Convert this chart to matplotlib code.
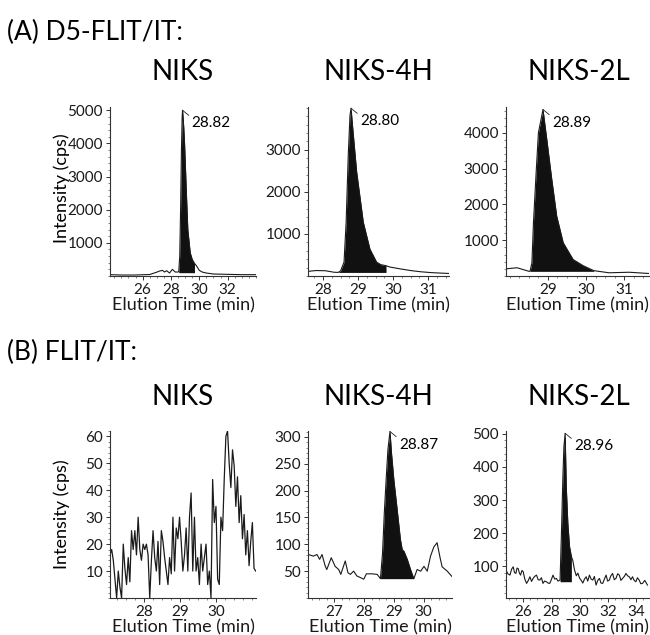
import matplotlib
matplotlib.use("Agg")
import matplotlib.pyplot as plt
from matplotlib.ticker import AutoMinorLocator

plt.rcParams['font.family'] = ['Lato', 'DejaVu Sans']

# ---- (A) D5-FLIT/IT ----
a1_time = [23.7, 24.5, 25.5, 26.5, 26.96, 27.2, 27.4, 27.55, 27.7, 27.9, 28.1, 28.3, 28.49,
           28.55, 28.62, 28.68, 28.74, 28.79, 28.82, 28.9, 28.96, 29.08, 29.19, 29.36, 29.5,
           29.66, 29.78, 30.0, 30.2, 30.49, 31.0, 32.0, 33.0, 34.0]
a1_int = [40, 30, 30, 45, 110, 150, 170, 120, 160, 90, 200, 120, 120,
          130, 600, 2000, 3800, 4800, 5000, 4500, 4000, 2600, 1400, 700, 500,
          380, 320, 170, 120, 90, 60, 50, 40, 40]

a2_time = [27.57, 27.8, 28.07, 28.31, 28.43, 28.5, 28.6, 28.66, 28.72, 28.77, 28.80, 28.85,
           28.96, 29.15, 29.34, 29.53, 29.65, 29.8, 29.9, 30.2, 30.5, 30.8, 31.1, 31.34, 31.6]
a2_int = [110, 130, 125, 90, 85, 120, 330, 1280, 2860, 3820, 3990, 3500,
          2480, 1280, 640, 330, 270, 245, 215, 170, 130, 100, 80, 70, 60]

a3_time = [27.9, 28.19, 28.49, 28.53, 28.58, 28.62, 28.69, 28.75, 28.87, 28.97, 29.1, 29.23,
           29.4, 29.66, 29.92, 30.18, 30.2, 30.6, 31.13, 31.65]
a3_int = [200, 230, 135, 130, 370, 1490, 2880, 4000, 4650, 3810, 2700, 1670,
          930, 460, 290, 160, 150, 90, 105, 70]

# ---- (B) FLIT/IT ----
b1_time = [27.070, 27.116, 27.161, 27.207, 27.253, 27.299, 27.344, 27.390, 27.436, 27.481,
           27.527, 27.573, 27.618, 27.664, 27.710, 27.756, 27.801, 27.847, 27.893, 27.938,
           27.984, 28.030, 28.075, 28.121, 28.167, 28.213, 28.258, 28.304, 28.350, 28.395,
           28.441, 28.487, 28.532, 28.578, 28.624, 28.670, 28.715, 28.761, 28.807, 28.852,
           28.898, 28.944, 28.989, 29.035, 29.081, 29.127, 29.172, 29.218, 29.264, 29.309,
           29.355, 29.401, 29.446, 29.492, 29.538, 29.584, 29.629, 29.675, 29.721, 29.766,
           29.812, 29.858, 29.903, 29.949, 29.995, 30.041, 30.086, 30.132, 30.178, 30.223,
           30.269, 30.315, 30.360, 30.406, 30.452, 30.498, 30.543, 30.589, 30.635, 30.680,
           30.726, 30.772, 30.817, 30.863, 30.909, 30.955, 31.000, 31.046, 31.092]
b1_int = [16, 18, 14, 7, 0, 10, 4, 0, 20, 11,
          5, 15, 6, 25, 18, 25, 16, 30, 18, 14,
          20, 18, 20, 16, 0, 14, 25, 15, 10, 21,
          5, 25, 21, 15, 10, 5, 15, 9, 30, 10,
          26, 22, 30, 21, 10, 16, 26, 10, 30, 39,
          10, 30, 10, 15, 5, 20, 10, 15, 20, 5,
          10, 0, 44, 28, 34, 7, 5, 30, 25, 44,
          60, 62, 50, 41, 55, 49, 34, 45, 28, 38,
          22, 31, 16, 25, 12, 21, 28, 11, 10]

b2_time = [26.13, 26.30, 26.42, 26.51, 26.59, 26.70, 26.75, 26.90, 27.03, 27.15, 27.22, 27.37,
           27.46, 27.54, 27.65, 27.76, 27.88, 27.99, 28.08, 28.27, 28.44, 28.55, 28.62, 28.68,
           28.74, 28.80, 28.87, 28.92, 29.0, 29.11, 29.22, 29.28, 29.34, 29.45, 29.56, 29.67,
           29.78, 29.9, 30.01, 30.12, 30.23, 30.34, 30.45, 30.55, 30.62, 30.79, 30.95]
b2_int = [81, 78, 81, 72, 81, 59, 53, 75, 59, 53, 44, 69,
          47, 44, 50, 41, 38, 35, 45, 45, 44, 36, 84, 159,
          220, 276, 310, 270, 220, 165, 109, 90, 87, 72, 53, 36,
          53, 50, 59, 50, 78, 95, 103, 75, 58, 50, 40]

b3_time = [24.77, 24.9, 25.05, 25.17, 25.28, 25.37, 25.47, 25.55, 25.63, 25.72, 25.8, 25.9,
           25.99, 26.1, 26.23, 26.35, 26.46, 26.58, 26.69, 26.8, 26.93, 27.05, 27.16, 27.28,
           27.39, 27.5, 27.63, 27.75, 27.87, 27.98, 28.1, 28.22, 28.34, 28.45, 28.6, 28.69,
           28.8, 28.87, 28.96, 29.04, 29.15, 29.27, 29.4, 29.5, 29.62, 29.75, 29.86, 29.98,
           30.1, 30.21, 30.33, 30.45, 30.56, 30.68, 30.8, 30.92, 31.03, 31.15, 31.27, 31.39,
           31.5, 31.62, 31.74, 31.86, 31.97, 32.09, 32.2, 32.32, 32.44, 32.56, 32.68, 32.8,
           32.91, 33.03, 33.15, 33.27, 33.38, 33.5, 33.62, 33.73, 33.85, 33.97, 34.08, 34.2,
           34.32, 34.44, 34.6, 34.79]
b3_int = [89, 78, 74, 92, 99, 82, 79, 95, 94, 80, 74, 88,
          84, 62, 49, 58, 69, 55, 64, 70, 74, 60, 59, 66,
          49, 56, 54, 50, 49, 60, 74, 62, 64, 56, 59, 189,
          369, 459, 501, 339, 230, 160, 130, 118, 90, 72, 80, 65,
          58, 50, 62, 69, 56, 74, 62, 59, 70, 44, 58, 64,
          50, 49, 62, 74, 56, 59, 72, 79, 60, 64, 78, 74,
          58, 64, 70, 79, 72, 69, 60, 69, 58, 54, 66, 59,
          48, 49, 58, 44]

panels = [
    dict(t=a1_time, y=a1_int, lab="28.82", pk=28.82, fill=(28.55, 29.66), base=100,
         xlim=(23.7, 34.0), ylim=(0, 5100), xt=[26, 28, 30, 32], yt=[1000, 2000, 3000, 4000, 5000],
         box=(110, 107, 256, 276), lw=0.8),
    dict(t=a2_time, y=a2_int, lab="28.80", pk=28.80, fill=(28.43, 29.8), base=85,
         xlim=(27.57, 31.6), ylim=(0, 4020), xt=[28, 29, 30, 31], yt=[1000, 2000, 3000],
         box=(308, 107, 449, 276), lw=0.8),
    dict(t=a3_time, y=a3_int, lab="28.89", pk=28.87, fill=(28.53, 30.2), base=130,
         xlim=(27.9, 31.65), ylim=(0, 4720), xt=[29, 30, 31], yt=[1000, 2000, 3000, 4000],
         box=(506, 107, 649, 276), lw=0.8),
    dict(t=b1_time, y=b1_int, lab=None, pk=None, fill=None, base=0,
         xlim=(27.07, 31.1), ylim=(0, 62), xt=[28, 29, 30], yt=[10, 20, 30, 40, 50, 60],
         box=(110, 431, 256, 598), lw=0.9),
    dict(t=b2_time, y=b2_int, lab="28.87", pk=28.87, fill=(28.55, 29.67), base=36,
         xlim=(26.12, 30.95), ylim=(0, 311), xt=[27, 28, 29, 30], yt=[50, 100, 150, 200, 250, 300],
         box=(308, 431, 452, 598), lw=0.8),
    dict(t=b3_time, y=b3_int, lab="28.96", pk=28.96, fill=(28.6, 29.4), base=54,
         xlim=(24.77, 34.9), ylim=(5, 508), xt=[26, 28, 30, 32, 34], yt=[100, 200, 300, 400, 500],
         box=(506, 431, 649, 598), lw=0.8),
]

W, H = 650, 635
fig = plt.figure(figsize=(W / 100, H / 100), dpi=100)


def add_px_axes(l, t, r, b):
    return fig.add_axes([l / W, 1 - b / H, (r - l) / W, (b - t) / H])


for p in panels:
    ax = add_px_axes(*p['box'])
    t, y = p['t'], p['y']
    ax.plot(t, y, color='#1a1a1a', lw=p['lw'])
    if p['fill']:
        s, e = p['fill']
        ft = [ti for ti in t if s <= ti <= e]
        fy = [yi for ti, yi in zip(t, y) if s <= ti <= e]
        ax.fill_between(ft, fy, p['base'], color='#111111', lw=0)
        ymax = max(y)
        ax.annotate(p['lab'], xy=(p['pk'], ymax), xytext=(9, -13), textcoords='offset pixels',
                    fontsize=11, ha='left', va='center',
                    arrowprops=dict(arrowstyle='-', lw=0.6, color='#222',
                                    shrinkA=0, shrinkB=0, relpos=(0, 0.9)))
    ax.set_xlim(*p['xlim'])
    ax.set_ylim(*p['ylim'])
    ax.set_xticks(p['xt'])
    ax.set_yticks(p['yt'])
    ax.xaxis.set_minor_locator(AutoMinorLocator(4))
    ax.yaxis.set_minor_locator(AutoMinorLocator(5))
    for side in ['top', 'right']:
        ax.spines[side].set_visible(False)
    for side in ['left', 'bottom']:
        ax.spines[side].set_color('#333333')
        ax.spines[side].set_linewidth(0.8)
    ax.tick_params(which='major', length=3, width=0.7, labelsize=11, pad=2, colors='#333333',
                   labelcolor='#1a1a1a')
    ax.tick_params(which='minor', length=1.5, width=0.5, colors='#555555')
    ax.set_xlabel("Elution Time (min)", fontsize=13, labelpad=0, color='#1a1a1a')

fig.text(62 / W, 1 - 188 / H, "Intensity (cps)", rotation=90, ha='center', va='center', fontsize=13)
fig.text(62 / W, 1 - 514 / H, "Intensity (cps)", rotation=90, ha='center', va='center', fontsize=13)

fig.text(7 / W, 1 - 32 / H, "(A) D5-FLIT/IT:", ha='left', va='center', fontsize=19)
fig.text(7 / W, 1 - 352 / H, "(B) FLIT/IT:", ha='left', va='center', fontsize=19)

names = ["NIKS", "NIKS-4H", "NIKS-2L"]
centers = [183, 378, 579]
for row_y in [72, 397]:
    for nm, cx in zip(names, centers):
        fig.text(cx / W, 1 - row_y / H, nm, ha='center', va='center', fontsize=20)

fig.savefig("out.png", dpi=100)
